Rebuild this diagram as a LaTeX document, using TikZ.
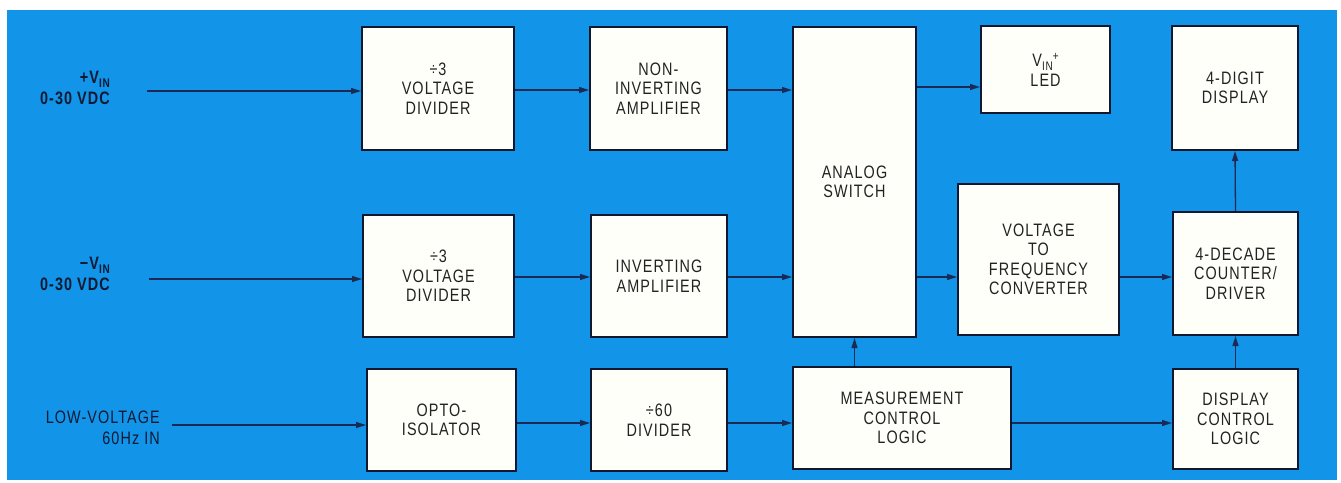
\documentclass[tikz,border=0pt]{standalone}
\usepackage{fontspec}
\setmainfont{Liberation Sans}[FakeStretch=0.8, LetterSpace=6]
\usetikzlibrary{arrows.meta}
\definecolor{bgblue}{HTML}{1294E8}
\definecolor{boxfill}{HTML}{FFFFFA}
\definecolor{boxline}{HTML}{101830}
\definecolor{wire}{HTML}{1B2A55}
\definecolor{ink}{HTML}{222222}
\definecolor{labink}{HTML}{0E1A33}
\newcommand{\vsub}[1]{\raisebox{-0.45ex}{\fontsize{12.5}{12.5}\selectfont #1}}
\begin{document}
\begin{tikzpicture}[x=1pt, y=-1pt,
  blk/.style={draw=boxline, line width=2pt, fill=boxfill, inner sep=0pt,
    text=ink, align=center, font=\fontsize{18}{19.5}\selectfont},
  lab/.style={text=labink, inner sep=0pt, align=right,
    font=\fontsize{18}{21}\selectfont\bfseries},
  conn/.style={draw=wire, line width=1.3pt, -{Triangle[length=10pt,width=6pt]}}]
\useasboundingbox (0,0) rectangle (1341,482);
\fill[white] (0,0) rectangle (1341,482);
\fill[bgblue] (7,10) rectangle (1337,480);

% row 1
\node[blk, minimum width=152pt, minimum height=123pt] (vd1) at (438,88.5) {÷3\\VOLTAGE\\DIVIDER};
\node[blk, minimum width=137pt, minimum height=123pt] (ninv) at (658.5,88.5) {NON-\\INVERTING\\AMPLIFIER};
\node[blk, minimum width=123pt, minimum height=310pt] (sw) at (854.5,182) {ANALOG\\SWITCH};
\node[blk, minimum width=129pt, minimum height=87pt] (led) at (1045.5,69.5) {V\vsub{IN}\raisebox{0.7ex}{\fontsize{12.5}{12.5}\selectfont +}\\LED};
\node[blk, minimum width=126pt, minimum height=124pt] (disp) at (1235,88) {4-DIGIT\\DISPLAY};
% row 2
\node[blk, minimum width=151pt, minimum height=122pt] (vd2) at (438.5,276) {÷3\\VOLTAGE\\DIVIDER};
\node[blk, minimum width=136pt, minimum height=122pt] (inv) at (659,276) {INVERTING\\AMPLIFIER};
\node[blk, minimum width=161pt, minimum height=151pt] (vfc) at (1038.5,259.5) {VOLTAGE\\TO\\FREQUENCY\\CONVERTER};
\node[blk, minimum width=125pt, minimum height=123pt] (cnt) at (1235.5,273.5) {4-DECADE\\COUNTER/\\DRIVER};
% row 3
\node[blk, minimum width=149pt, minimum height=102pt] (opto) at (441.5,420) {OPTO-\\ISOLATOR};
\node[blk, minimum width=136pt, minimum height=102pt] (div) at (659,420) {÷60\\DIVIDER};
\node[blk, minimum width=218pt, minimum height=102pt] (meas) at (902,418) {MEASUREMENT\\CONTROL\\LOGIC};
\node[blk, minimum width=125pt, minimum height=100pt] (dctl) at (1235.5,419) {DISPLAY\\CONTROL\\LOGIC};

% input labels
\node[lab, anchor=east] (pvin) at (110,88) {+V\vsub{IN}\\0-30 VDC};
\node[lab, anchor=east] (mvin) at (110,274) {−V\vsub{IN}\\0-30 VDC};
\node[lab, anchor=east, font=\fontsize{18}{21}\selectfont] (lowv) at (160,428) {LOW-VOLTAGE\\60Hz IN};

% free ends and row levels
\coordinate (in1) at (147,91);
\coordinate (in2) at (149,279);
\coordinate (in3) at (172,425);
\coordinate (r1) at (0,90);
\coordinate (rled) at (0,87);
\coordinate (r2) at (0,277);
\coordinate (r3) at (0,423);

% connectors
\draw[conn] (in1) -- (vd1.west |- in1);
\draw[conn] (vd1.east |- r1) -- (ninv.west |- r1);
\draw[conn] (ninv.east |- r1) -- (sw.west |- r1);
\draw[conn] (sw.east |- rled) -- (led.west |- rled);

\draw[conn] (in2) -- (vd2.west |- in2);
\draw[conn] (vd2.east |- r2) -- (inv.west |- r2);
\draw[conn] (inv.east |- r2) -- (sw.west |- r2);
\draw[conn] (sw.east |- r2) -- (vfc.west |- r2);
\draw[conn] (vfc.east |- r2) -- (cnt.west |- r2);

\draw[conn] (in3) -- (opto.west |- in3);
\draw[conn] (opto.east |- r3) -- (div.west |- r3);
\draw[conn] (div.east |- r3) -- (meas.west |- r3);
\draw[conn] (meas.east |- r3) -- (dctl.west |- r3);

\draw[conn] (sw.south |- meas.north) -- (sw.south);
\draw[conn] (cnt.north) -- (disp.south);
\draw[conn] (dctl.north) -- (cnt.south);
\end{tikzpicture}
\end{document}
